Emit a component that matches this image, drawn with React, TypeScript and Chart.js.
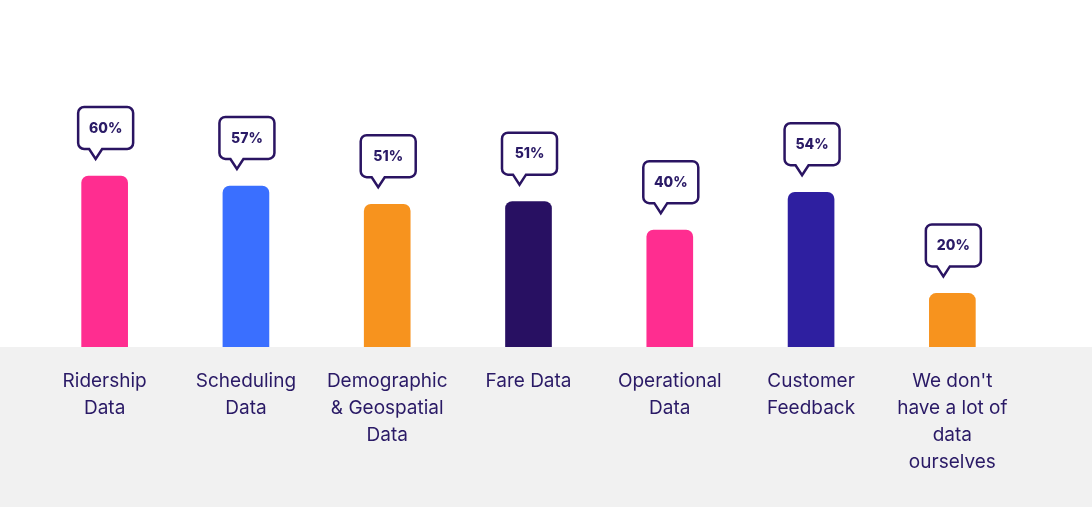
import React, { useEffect, useRef } from "react";
import { Chart, registerables } from "chart.js";

Chart.register(...registerables);

const categories: string[][] = [
  ["Ridership", "Data"],
  ["Scheduling", "Data"],
  ["Demographic", "& Geospatial", "Data"],
  ["Fare Data"],
  ["Operational", "Data"],
  ["Customer", "Feedback"],
  ["We don't", "have a lot of", "data", "ourselves"],
];
const barValues: number[] = [60, 56.5, 50.1, 51, 41, 54.3, 18.8];
const bubbleLabels: string[] = ["60%", "57%", "51%", "51%", "40%", "54%", "20%"];
const barColors: string[] = ["#ff2d90", "#3a6fff", "#f7931e", "#281062", "#ff2d90", "#2e1fa0", "#f7931e"];

const TEXT = "#2a1a66";
const FONT = "Inter, 'Noto Sans', sans-serif";

const bgPlugin = {
  id: "bgBand",
  beforeDraw(chart: any) {
    const { ctx, chartArea, width, height } = chart;
    ctx.save();
    ctx.fillStyle = "#ffffff";
    ctx.fillRect(0, 0, width, height);
    ctx.fillStyle = "#f1f1f1";
    ctx.fillRect(0, chartArea.bottom, width, height - chartArea.bottom);
    ctx.restore();
  },
};

const bubblePlugin = {
  id: "bubbles",
  afterDatasetsDraw(chart: any) {
    const { ctx } = chart;
    const meta = chart.getDatasetMeta(0);
    meta.data.forEach((bar: any, i: number) => {
      const cx = bar.x;
      const top = bar.y;
      const w = 55;
      const h = 42;
      const tail = 10;
      const gap = 17;
      const bottom = top - gap - tail;
      const y0 = bottom - h;
      const x0 = cx - w / 2 + 1;
      const r = 6;
      const tx = cx - 9;
      ctx.save();
      ctx.beginPath();
      ctx.moveTo(x0 + r, y0);
      ctx.lineTo(x0 + w - r, y0);
      ctx.arcTo(x0 + w, y0, x0 + w, y0 + r, r);
      ctx.lineTo(x0 + w, bottom - r);
      ctx.arcTo(x0 + w, bottom, x0 + w - r, bottom, r);
      ctx.lineTo(tx + 6.5, bottom);
      ctx.lineTo(tx, bottom + tail);
      ctx.lineTo(tx - 6.5, bottom);
      ctx.lineTo(x0 + r, bottom);
      ctx.arcTo(x0, bottom, x0, bottom - r, r);
      ctx.lineTo(x0, y0 + r);
      ctx.arcTo(x0, y0, x0 + r, y0, r);
      ctx.closePath();
      ctx.fillStyle = "#ffffff";
      ctx.fill();
      ctx.lineWidth = 2.5;
      ctx.lineJoin = "miter";
      ctx.strokeStyle = "#2a1462";
      ctx.stroke();
      ctx.fillStyle = TEXT;
      ctx.font = "800 14px " + FONT;
      ctx.textAlign = "center";
      ctx.textBaseline = "middle";
      ctx.fillText(bubbleLabels[i], x0 + w / 2, y0 + h / 2 + 0.5);
      ctx.restore();
    });
  },
};

export default function App() {
  const ref = useRef<HTMLCanvasElement | null>(null);
  useEffect(() => {
    document.body.style.margin = "0";
    const chart = new Chart(ref.current as HTMLCanvasElement, {
      type: "bar",
      data: {
        labels: categories,
        datasets: [
          {
            data: barValues,
            backgroundColor: barColors,
            barThickness: 46,
            borderRadius: { topLeft: 7, topRight: 7, bottomLeft: 0, bottomRight: 0 },
            borderSkipped: "bottom",
          },
        ],
      },
      options: {
        animation: false,
        responsive: false,
        maintainAspectRatio: false,
        layout: { padding: { top: 62, left: 34, right: 69, bottom: 0 } },
        plugins: { legend: { display: false }, tooltip: { enabled: false } },
        scales: {
          x: {
            grid: { display: false, drawTicks: false },
            border: { display: false },
            ticks: {
              color: TEXT,
              font: { family: FONT, size: 19, lineHeight: 1.42 },
              padding: 21,
              maxRotation: 0,
              autoSkip: false,
            },
            afterFit(scale: any) {
              scale.height = 160;
            },
          },
          y: {
            display: false,
            min: 0,
            max: 100,
          },
        },
      },
      plugins: [bgPlugin, bubblePlugin],
    });
    return () => chart.destroy();
  }, []);
  return <canvas ref={ref} width={1092} height={507} style={{ display: "block" }} />;
}
